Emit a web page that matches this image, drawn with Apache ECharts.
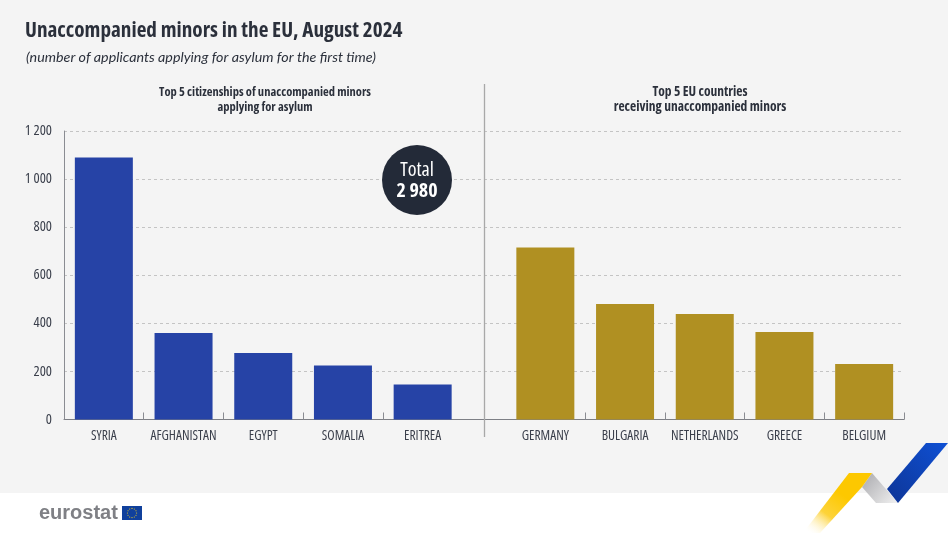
<!DOCTYPE html>
<html>
<head>
<meta charset="utf-8">
<style>html,body{margin:0;padding:0;background:#fff}#c{width:948px;height:533px}</style>
<script src="https://cdn.jsdelivr.net/npm/echarts@6/dist/echarts.min.js"></script>
</head>
<body>
<div id="c"></div>
<script>
const citizenships = ['SYRIA','AFGHANISTAN','EGYPT','SOMALIA','ERITREA'];
const citizenshipValues = [1090,360,277,225,146];
const countries = ['GERMANY','BULGARIA','NETHERLANDS','GREECE','BELGIUM'];
const countryValues = [715,480,439,364,231];
const yTicks = [0,200,400,600,800,1000,1200];
const titleText = 'Unaccompanied minors in the EU, August 2024';
const subtitleText = '(number of applicants applying for asylum for the first time)';
const leftHeading = 'Top 5 citizenships of unaccompanied minors\napplying for asylum';
const rightHeading = 'Top 5 EU countries\nreceiving unaccompanied minors';
const totalLabel = 'Total';
const totalValue = '2 980';

const OPEN = '"Open Sans",sans-serif';
const INK = '#2b303b';
const LABEL = '#3a3f4b';
const fmt = v => String(v).replace(/\B(?=(\d{3})+$)/g,' ');
const gridTop = 131, gridBottom = 533-419.5;

const stars = [];
for (let i=0;i<12;i++){
  const a=i*Math.PI/6;
  stars.push({type:'circle',z:21,silent:true,shape:{cx:132+4.6*Math.cos(a),cy:513+4.6*Math.sin(a),r:0.55},style:{fill:'#f5d21e'}});
}
const lin=(x,y,x2,y2,stops)=>({type:'linear',x,y,x2,y2,colorStops:stops.map((c,i)=>({offset:i/(stops.length-1),color:c}))});
const catLabel = {interval:0,fontFamily:OPEN,fontWeight:'normal condensed',fontSize:13.5,color:LABEL,margin:10};
const tickStyle = {color:'#8a8c92',width:1};
const valueRange = {type:'value',min:yTicks[0],max:yTicks[yTicks.length-1],interval:yTicks[1]-yTicks[0]};

const chart = echarts.init(document.getElementById('c'),null,{renderer:'canvas'});
chart.setOption({
  animation:false,
  backgroundColor:'#ffffff',
  title:[
    {text:titleText,left:20,top:15.5,textStyle:{fontFamily:OPEN,fontWeight:'bold condensed',fontSize:21.2,color:INK}},
    {text:subtitleText,left:21,top:45,textStyle:{fontFamily:'Lato,sans-serif',fontStyle:'italic',fontWeight:'normal',fontSize:14.3,color:INK}},
    {text:leftHeading,left:260,top:80,textAlign:'center',textStyle:{fontFamily:OPEN,fontWeight:'bold condensed',fontSize:12.5,lineHeight:15,color:INK}},
    {text:rightHeading,left:695,top:80,textAlign:'center',textStyle:{fontFamily:OPEN,fontWeight:'bold condensed',fontSize:13.5,lineHeight:15,color:INK}}
  ],
  grid:[
    {left:64,right:948-904,top:gridTop,bottom:gridBottom,z:1},
    {left:64,right:948-462.5,top:gridTop,bottom:gridBottom},
    {left:505.5,right:948-904,top:gridTop,bottom:gridBottom},
    {left:64,width:318.8,top:gridTop,bottom:gridBottom}
  ],
  xAxis:[
    {gridIndex:0,type:'category',data:[''],axisTick:{show:false},axisLabel:{show:false},
     axisLine:{show:true,lineStyle:{color:'#7d7f85',width:1}}},
    {gridIndex:1,type:'category',data:citizenships,
     axisLine:{show:false},axisTick:{show:false},axisLabel:catLabel},
    {gridIndex:2,type:'category',data:countries,
     axisLine:{show:false},
     axisTick:{show:true,inside:true,length:7,interval:i=>i>0,lineStyle:tickStyle},
     axisLabel:catLabel},
    {gridIndex:3,type:'category',data:citizenships.slice(0,4),
     axisLine:{show:false},axisLabel:{show:false},
     axisTick:{show:true,inside:true,length:7,interval:0,lineStyle:tickStyle}}
  ],
  yAxis:[
    {...valueRange,gridIndex:0,
     axisLine:{show:true,lineStyle:{color:'#8a8c92',width:1}},axisTick:{show:false},
     axisLabel:{formatter:fmt,fontFamily:OPEN,fontWeight:'normal condensed',fontSize:14.5,color:LABEL,margin:12},
     splitLine:{show:true,lineStyle:{color:'#c4c4c4',type:[3,3],width:1}}},
    {...valueRange,gridIndex:1,show:false,splitLine:{show:false}},
    {...valueRange,gridIndex:2,show:false,splitLine:{show:false}},
    {...valueRange,gridIndex:3,show:false,splitLine:{show:false}}
  ],
  series:[
    {type:'bar',name:'Citizenships',xAxisIndex:1,yAxisIndex:1,data:citizenshipValues,barWidth:58,itemStyle:{color:'#2643a6'},z:5},
    {type:'bar',name:'Receiving countries',xAxisIndex:2,yAxisIndex:2,data:countryValues,barWidth:58,itemStyle:{color:'#b09022'},z:5}
  ],
  graphic:[
    {type:'rect',z:-10,silent:true,shape:{x:0,y:0,width:948,height:493},style:{fill:'#f4f4f4'}},
    {type:'line',z:10,silent:true,shape:{x1:484.5,y1:84,x2:484.5,y2:437},style:{stroke:'#a8a8a8',lineWidth:1.3}},
    {type:'circle',z:20,silent:true,shape:{cx:417,cy:180,r:35},style:{fill:'#232a38'}},
    {type:'text',z:21,silent:true,x:417,y:170,style:{text:totalLabel,align:'center',verticalAlign:'middle',fontFamily:OPEN,fontWeight:'normal condensed',fontSize:20,fill:'#fff'}},
    {type:'text',z:21,silent:true,x:417,y:191,style:{text:totalValue,align:'center',verticalAlign:'middle',fontFamily:OPEN,fontWeight:'bold condensed',fontSize:20,fill:'#fff'}},
    {type:'text',z:21,silent:true,x:39,y:513,style:{text:'eurostat',align:'left',verticalAlign:'middle',fontFamily:'"Liberation Sans",sans-serif',fontWeight:'bold',fontSize:20,fill:'#7f8085'}},
    {type:'rect',z:20,silent:true,shape:{x:122,y:506,width:20,height:14},style:{fill:'#10409c'}},
    ...stars,
    {type:'polygon',z:22,silent:true,shape:{points:[[849,473],[872,473],[862,487],[820,533],[803,533]]},
      style:{fill:lin(0.75,0,0.1,1,['#fdc800','#fdc800','#fdd33a','rgba(255,255,255,0.1)'])}},
    {type:'polygon',z:21,silent:true,shape:{points:[[872,473],[898,503],[876,503],[862,487]]},
      style:{fill:lin(0,0,1,1,['#a9a9ad','#f2f2f2'])}},
    {type:'polygon',z:22,silent:true,shape:{points:[[926,443],[948,443],[898,503],[887,489]]},
      style:{fill:lin(1,0,0,1,['#0f50d4','#0e3596'])}}
  ]
});
</script>
</body>
</html>
